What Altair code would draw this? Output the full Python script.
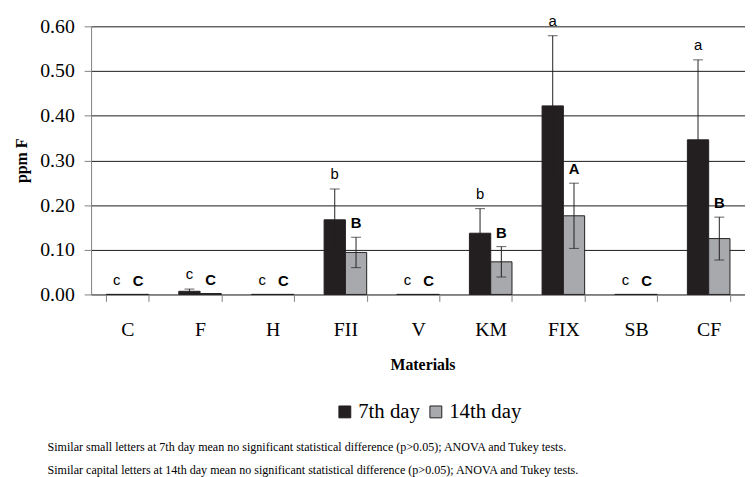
import altair as alt
import pandas as pd

materials = ["C", "F", "H", "FII", "V", "KM", "FIX", "SB", "CF"]
day_order = ["7th day", "14th day"]
day7 = [0.0, 0.007, 0.0, 0.167, 0.0, 0.137, 0.422, 0.0, 0.346]
err7 = [0.0, 0.005, 0.0, 0.069, 0.0, 0.055, 0.157, 0.0, 0.179]
day14 = [0.0, 0.002, 0.0, 0.094, 0.0, 0.073, 0.176, 0.0, 0.125]
err14 = [0.0, 0.0, 0.0, 0.034, 0.0, 0.034, 0.073, 0.0, 0.048]
letters7 = ["c", "c", "c", "b", "c", "b", "a", "c", "a"]
letters14 = ["C", "C", "C", "B", "C", "B", "A", "C", "B"]
y_ticks = [0.0, 0.1, 0.2, 0.3, 0.4, 0.5, 0.6]
notes = [
    "Similar small letters at 7th day mean no significant statistical difference (p>0.05); ANOVA and Tukey tests.",
    "Similar capital letters at 14th day mean no significant statistical difference (p>0.05); ANOVA and Tukey tests.",
]

rows = []
for i, m in enumerate(materials):
    rows.append(dict(material=m, day=day_order[0], value=day7[i], err=err7[i], letter=letters7[i]))
    rows.append(dict(material=m, day=day_order[1], value=day14[i], err=err14[i], letter=letters14[i]))
df = pd.DataFrame(rows)
df["lo"] = df["value"] - df["err"]
df["hi"] = df["value"] + df["err"]

SERIF = "Liberation Serif"
SANS = "Liberation Sans"
DARK = "#231f20"

x = alt.X(
    "material:N",
    sort=materials,
    scale=alt.Scale(paddingInner=0.414, paddingOuter=0.207),
    axis=alt.Axis(
        title="Materials", labelAngle=0, labelFont=SERIF, labelFontSize=20,
        labelPadding=19, tickBand="extent", tickSize=7, titleFont=SERIF,
        titleFontSize=16, titleFontWeight="bold", titlePadding=17, titleX=335,
    ),
)
xo = alt.XOffset("day:N", sort=day_order,
                 scale=alt.Scale(domain=day_order, paddingInner=0, paddingOuter=0))
yscale = alt.Scale(domain=[0, 0.6], nice=False)
yaxis = alt.Axis(
    values=y_ticks, format=".2f", grid=True, gridColor="#1a1a1a", gridWidth=1,
    labelFont=SERIF, labelFontSize=20, labelPadding=10, tickSize=7,
    titleFont=SERIF, titleFontSize=16, titleFontWeight="bold", titlePadding=10,
)

base = alt.Chart(df)

bars = base.mark_bar(stroke=DARK, strokeWidth=1).encode(
    x=x, xOffset=xo,
    y=alt.Y("value:Q", scale=yscale, axis=yaxis, title="ppm F"),
    color=alt.Color(
        "day:N", sort=day_order,
        scale=alt.Scale(domain=day_order, range=[DARK, "#a7a9ac"]),
        legend=alt.Legend(
            title=None, orient="none", legendX=246, legendY=379,
            direction="horizontal", symbolType="square", symbolSize=144,
            symbolStrokeColor=DARK, symbolStrokeWidth=1, labelFont=SERIF,
            labelFontSize=21, labelColor="black", columnPadding=5, labelOffset=3,
        ),
    ),
)

eb_base = base.transform_filter("datum.err > 0")
rules = eb_base.mark_rule(color=DARK, strokeWidth=1).encode(
    x=x, xOffset=xo, y=alt.Y("lo:Q", title="ppm F", axis=yaxis), y2="hi:Q"
)
cap_hi = eb_base.mark_tick(color=DARK, size=10, thickness=1, orient="horizontal").encode(
    x=x, xOffset=xo, y=alt.Y("hi:Q", title="ppm F", axis=yaxis)
)
cap_lo = eb_base.mark_tick(color=DARK, size=10, thickness=1, orient="horizontal").encode(
    x=x, xOffset=xo, y=alt.Y("lo:Q", title="ppm F", axis=yaxis)
)

small = base.transform_filter(alt.datum.day == day_order[0]).mark_text(
    font=SANS, fontSize=15, baseline="alphabetic", dy=-10, color="black"
).encode(x=x, xOffset=xo, y=alt.Y("hi:Q", title="ppm F", axis=yaxis), text="letter:N")
capital = base.transform_filter(alt.datum.day == day_order[1]).mark_text(
    font=SANS, fontSize=15, fontWeight="bold", baseline="alphabetic", dy=-9, color="black"
).encode(x=x, xOffset=xo, y=alt.Y("hi:Q", title="ppm F", axis=yaxis), text="letter:N")

chart = alt.layer(bars, rules, cap_hi, cap_lo, small, capital).properties(
    width=661,
    height=271,
    autosize=alt.AutoSizeParams(type="none"),
    padding={"left": 84, "top": 16, "right": 0, "bottom": 182},
    title=alt.TitleParams(
        text=notes, orient="bottom", anchor="start", frame="group", dx=-44, offset=19,
        font=SERIF, fontSize=12.2, fontWeight="normal", color="black", lineHeight=24,
    ),
).configure(font=SERIF).configure_view(stroke=None).configure_axis(
    labelColor="black", titleColor="black", domainColor="#808080", tickColor="#808080",
    labelFont=SERIF, titleFont=SERIF,
).configure_legend(labelFont=SERIF)

chart.save("out.html", embed_options={"renderer": "svg", "actions": False})
